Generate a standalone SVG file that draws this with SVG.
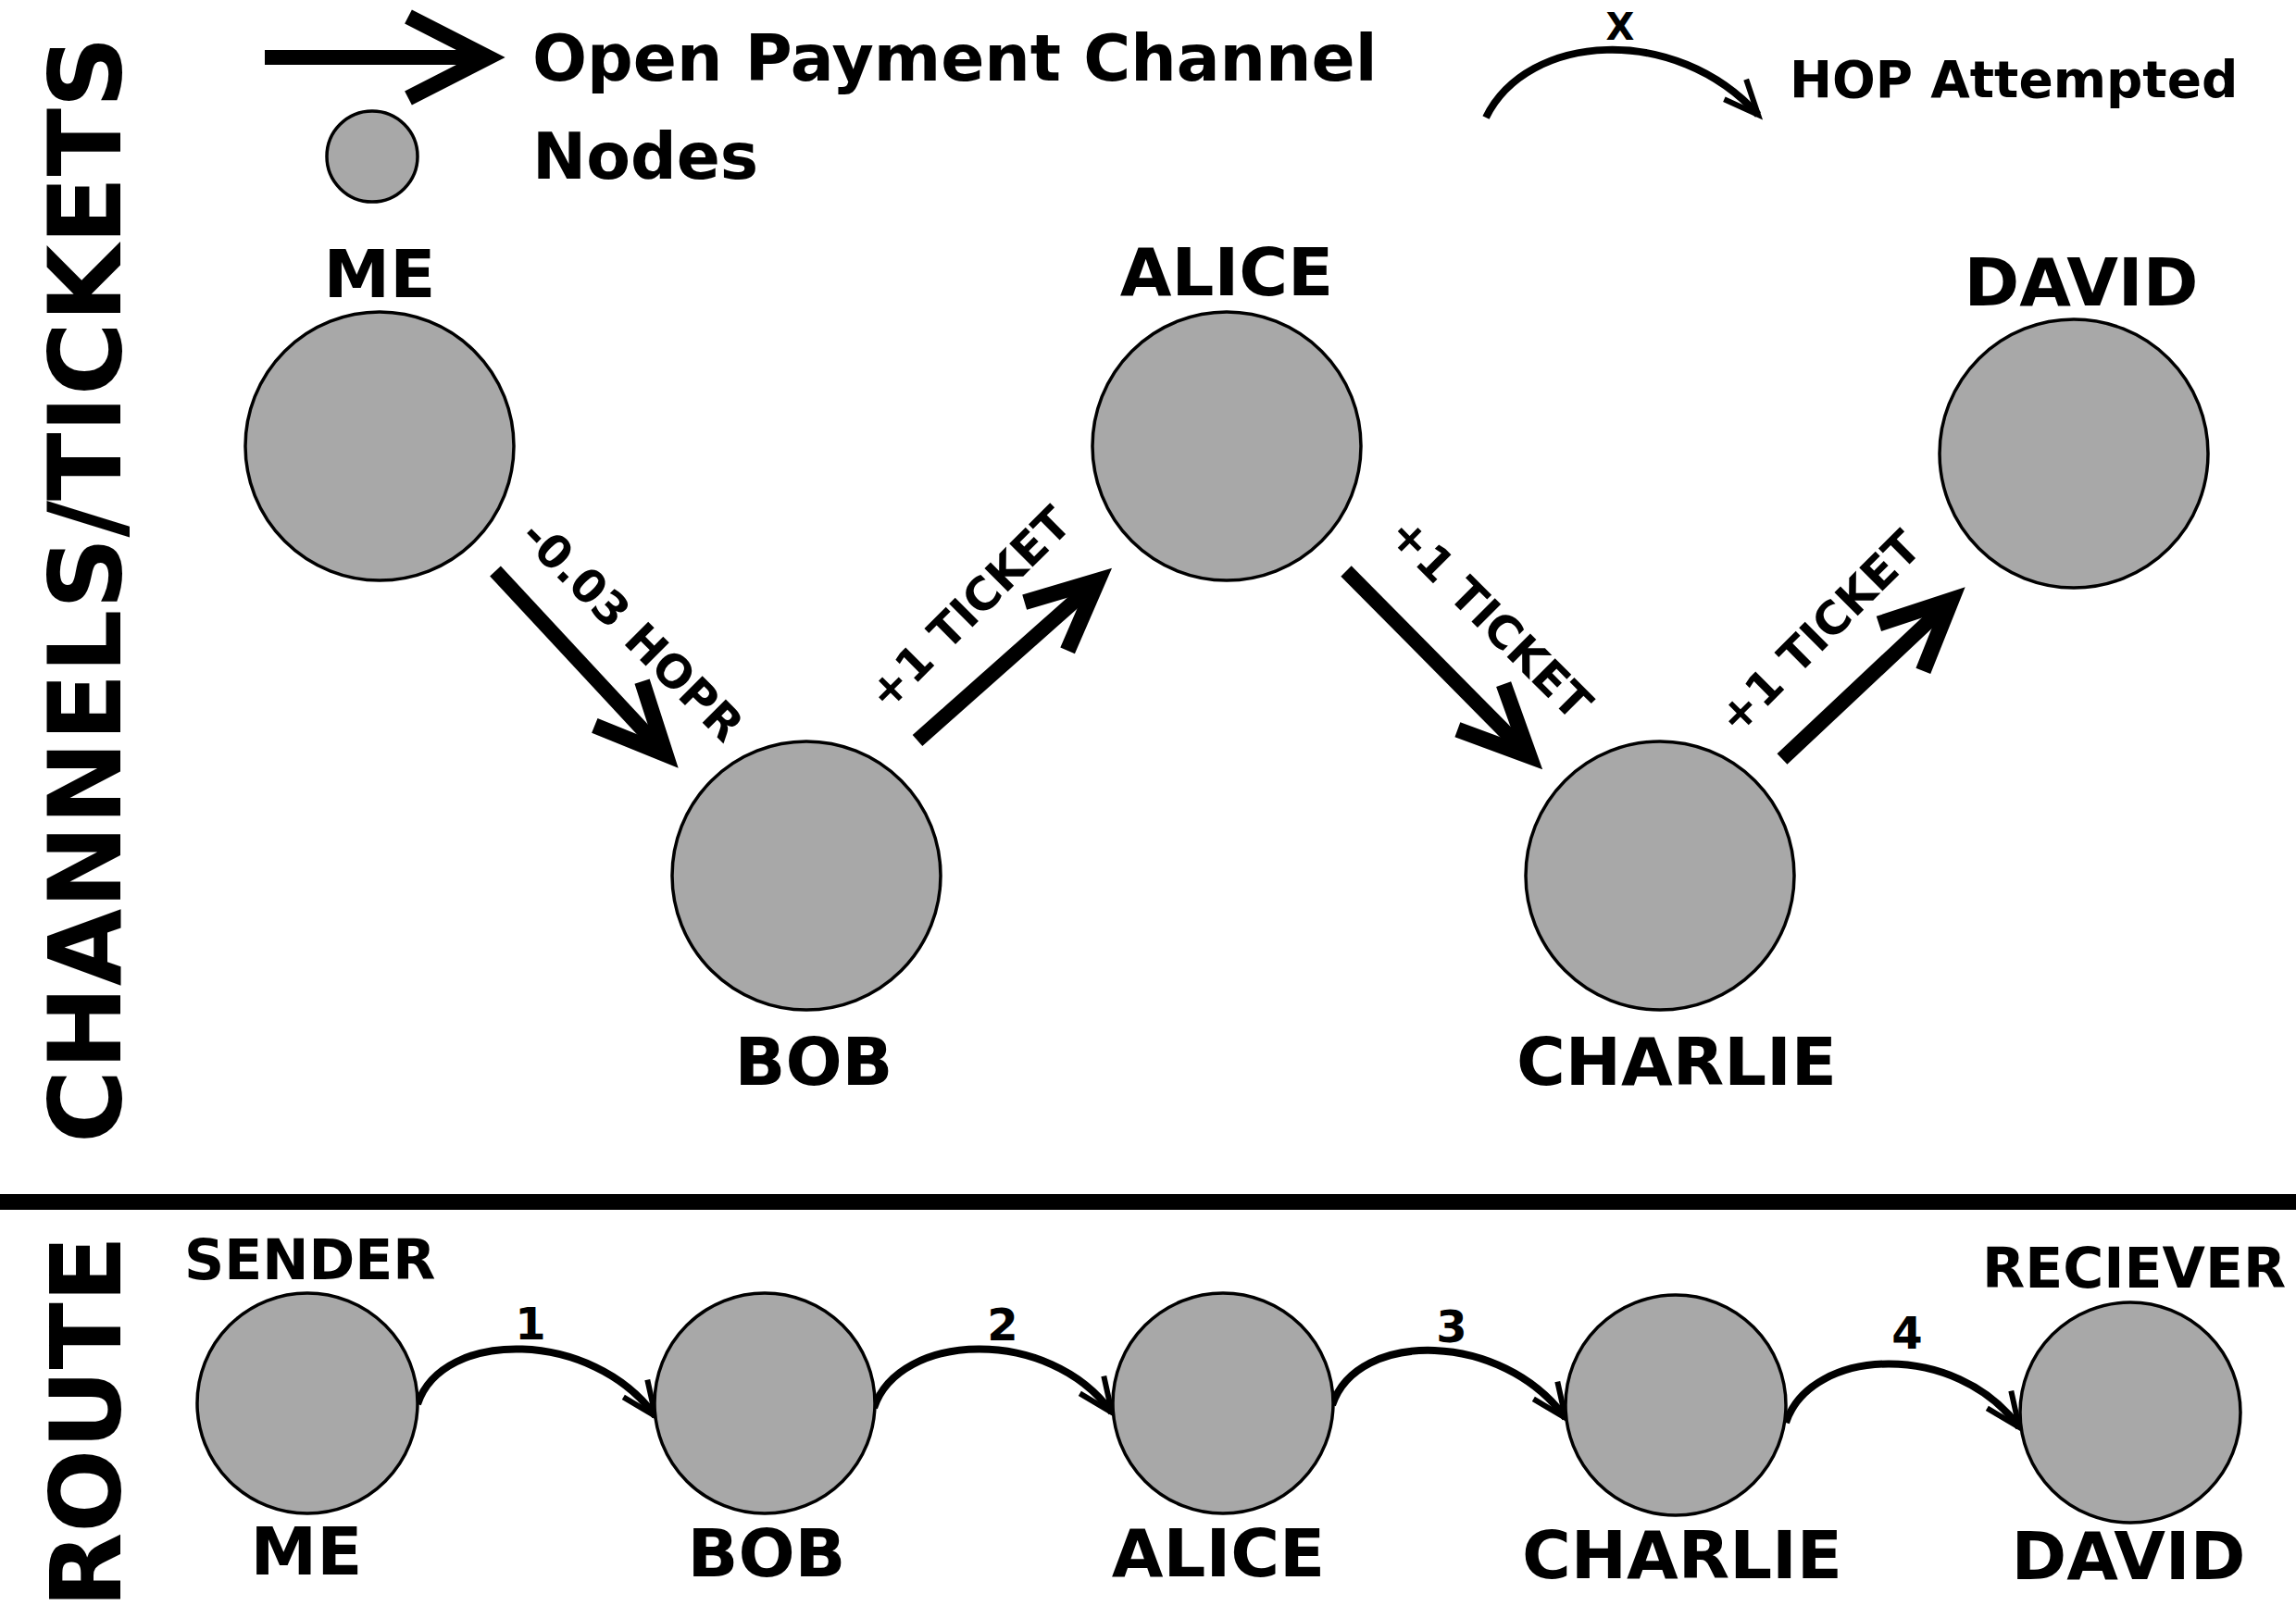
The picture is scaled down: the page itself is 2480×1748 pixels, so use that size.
<svg xmlns="http://www.w3.org/2000/svg" width="2480" height="1748" viewBox="0 0 2480 1748">
<defs>
<style>
.node{fill:#a8a8a8;stroke:#000;stroke-width:3.5}
.t{font-family:"DejaVu Sans",Verdana,sans-serif;font-weight:bold;fill:#000}
.c{text-anchor:middle}
.big{fill:none;stroke:#000;stroke-width:16}
.hop{fill:none;stroke:#000;stroke-width:8}
</style>
<marker id="bigHead" markerUnits="userSpaceOnUse" markerWidth="200" markerHeight="200" viewBox="-100 -100 200 200" refX="0" refY="0" orient="auto" overflow="visible">
<path d="M-75,-35 L0,0 L-75,35" fill="none" stroke="#000" stroke-width="17" stroke-miterlimit="10"/>
</marker>
<marker id="legHead" markerUnits="userSpaceOnUse" markerWidth="200" markerHeight="200" viewBox="-100 -100 200 200" refX="0" refY="0" orient="auto" overflow="visible">
<path d="M-86,-44 L0,0 L-86,44" fill="none" stroke="#000" stroke-width="17" stroke-miterlimit="10"/>
</marker>
<marker id="smallHead" markerUnits="userSpaceOnUse" markerWidth="100" markerHeight="100" viewBox="-50 -50 100 100" refX="0" refY="0" orient="auto" overflow="visible">
<path d="M-37,-16 L0,0 L-37,16" fill="none" stroke="#000" stroke-width="6" stroke-miterlimit="10"/>
</marker>
</defs>
<rect width="2480" height="1748" fill="#fff"/>

<g id="titles">
<text class="t c" font-size="108" transform="translate(130,637) rotate(-90)">CHANNELS/TICKETS</text>
<text class="t c" font-size="106" transform="translate(130,1536) rotate(-90)">ROUTE</text>
</g>

<g id="legend">
<line x1="286" y1="62" x2="527" y2="62" class="big" marker-end="url(#legHead)"/>
<text class="t" x="575" y="87" font-size="69.5">Open Payment Channel</text>
<circle cx="402" cy="169" r="49" class="node" stroke-width="2.5"/>
<text class="t" x="575" y="193" font-size="69.5">Nodes</text>
<path d="M1605,127 C1650,35 1810,25 1899,124" class="hop" stroke-width="6" marker-end="url(#smallHead)"/>
<text class="t c" x="1750" y="43" font-size="40">X</text>
<text class="t" x="1933" y="105" font-size="55">HOP Attempted</text>
</g>

<rect id="separator" x="0" y="1290" width="2480" height="17" fill="#000"/>

<g id="channels">
<line x1="535" y1="617" x2="719" y2="815" class="big" marker-end="url(#bigHead)"/>
<line x1="991" y1="800" x2="1186" y2="627" class="big" marker-end="url(#bigHead)"/>
<line x1="1454" y1="617" x2="1652" y2="817" class="big" marker-end="url(#bigHead)"/>
<line x1="1925" y1="820" x2="2108" y2="648" class="big" marker-end="url(#bigHead)"/>
<text class="t c" font-size="49" transform="translate(683,681) rotate(45)" y="17">-0.03 HOPR</text>
<text class="t c" font-size="49" transform="translate(1047,657) rotate(-45)" y="17">+1 TICKET</text>
<text class="t c" font-size="49" transform="translate(1610,668) rotate(45)" y="17">+1 TICKET</text>
<text class="t c" font-size="49" transform="translate(1965,683) rotate(-45)" y="17">+1 TICKET</text>
</g>

<g id="top-me"><circle cx="410" cy="482" r="145" class="node"/><text class="t c" x="410" y="321" font-size="72">ME</text></g>
<g id="top-bob"><circle cx="871" cy="946" r="145" class="node"/><text class="t c" x="879" y="1172" font-size="72">BOB</text></g>
<g id="top-alice"><circle cx="1325" cy="482" r="145" class="node"/><text class="t c" x="1325" y="319" font-size="72">ALICE</text></g>
<g id="top-charlie"><circle cx="1793" cy="946" r="145" class="node"/><text class="t c" x="1811" y="1172" font-size="72">CHARLIE</text></g>
<g id="top-david"><circle cx="2240" cy="490" r="145" class="node"/><text class="t c" x="2248" y="330" font-size="72">DAVID</text></g>

<g id="route">
<path d="M451,1517 C478,1435 640,1436 708,1530" class="hop" marker-end="url(#smallHead)"/>
<path d="M944,1521 C971,1439 1133,1432 1201,1526" class="hop" marker-end="url(#smallHead)"/>
<path d="M1439,1518 C1466,1436 1623,1438 1691,1532" class="hop" marker-end="url(#smallHead)"/>
<path d="M1929,1537 C1956,1455 2113,1448 2181,1542" class="hop" marker-end="url(#smallHead)"/>
<text class="t c" x="573" y="1447" font-size="48">1</text>
<text class="t c" x="1083" y="1448" font-size="48">2</text>
<text class="t c" x="1568" y="1450" font-size="48">3</text>
<text class="t c" x="2060" y="1457" font-size="48">4</text>
</g>

<g id="r-me"><circle cx="332" cy="1516" r="119" class="node"/><text class="t" x="199" y="1382" font-size="60">SENDER</text><text class="t c" x="331" y="1701" font-size="72">ME</text></g>
<g id="r-bob"><circle cx="826" cy="1516" r="119" class="node"/><text class="t c" x="828" y="1703" font-size="72">BOB</text></g>
<g id="r-alice"><circle cx="1321" cy="1516" r="119" class="node"/><text class="t c" x="1316" y="1703" font-size="72">ALICE</text></g>
<g id="r-charlie"><circle cx="1810" cy="1518" r="119" class="node"/><text class="t c" x="1817" y="1705" font-size="72">CHARLIE</text></g>
<g id="r-david"><circle cx="2301" cy="1526" r="119" class="node"/><text class="t" x="2141" y="1391" font-size="60">RECIEVER</text><text class="t c" x="2299" y="1706" font-size="72">DAVID</text></g>
</svg>
